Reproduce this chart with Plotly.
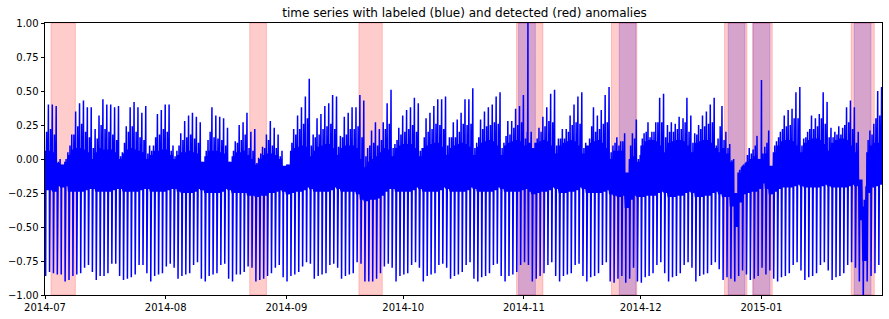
import pandas as pd
import plotly.graph_objects as go

START = "2014-07-01"
END = "2015-01-31 23:30"

# daily evening peak values (one per day, 2014-07-01 .. 2015-01-31)
peak = [
    0.40, 0.40, 0.39, 0.00, -0.04, 0.05, 0.18,
    0.35, 0.41, 0.43, 0.38, 0.38, 0.22, 0.32,
    0.44, 0.40, 0.40, 0.38, 0.39, 0.05, 0.24,
    0.38, 0.42, 0.38, 0.34, 0.39, 0.10, 0.10,
    0.33, 0.36, 0.40, 0.40, 0.10, 0.06, 0.19,
    0.28, 0.32, 0.34, 0.31, 0.27, -0.02, 0.14,
    0.38, 0.32, 0.31, 0.30, 0.23, -0.02, 0.13,
    0.25, 0.27, 0.34, 0.20, 0.22, 0.01, 0.09,
    0.18, 0.28, 0.23, 0.18, 0.06, -0.06, -0.04,
    0.22, 0.32, 0.38, 0.46, 0.59, 0.18, 0.30,
    0.33, 0.39, 0.41, 0.47, 0.46, 0.17, 0.31,
    0.34, 0.38, 0.38, 0.47, 0.43, 0.08, 0.21,
    0.27, 0.22, 0.27, 0.41, 0.51, 0.11, 0.23,
    0.32, 0.36, 0.38, 0.45, 0.41, 0.08, 0.30,
    0.34, 0.39, 0.44, 0.44, 0.46, 0.16, 0.27,
    0.29, 0.34, 0.44, 0.44, 0.52, 0.12, 0.29,
    0.35, 0.38, 0.40, 0.46, 0.49, 0.12, 0.28,
    0.28, 0.37, 0.39, 0.47, 0.20, 0.20, 0.12,
    0.23, 0.31, 0.38, 0.48, 0.51, 0.15, 0.22,
    0.22, 0.32, 0.40, 0.46, 0.49, 0.12, 0.15,
    0.38, 0.32, 0.36, 0.47, 0.53, 0.10, 0.16,
    0.13, 0.19, -0.19, 0.19, 0.29, 0.03, 0.19,
    0.27, 0.20, 0.27, 0.45, 0.48, 0.25, 0.27,
    0.26, 0.31, 0.30, 0.45, 0.32, 0.19, 0.25,
    0.32, 0.35, 0.40, 0.45, 0.15, 0.39, 0.20,
    0.11, 0.00, -0.35, -0.06, -0.03, 0.08, 0.07,
    0.17, 0.00, 0.09, 0.21, -0.15, 0.13, 0.20,
    0.32, 0.36, 0.37, 0.49, 0.53, 0.15, 0.20,
    0.32, 0.30, 0.33, 0.49, 0.42, 0.23, 0.20,
    0.24, 0.23, 0.38, 0.43, 0.38, 0.20, -0.32,
    -0.20, 0.21, 0.26, 0.50, 0.53,
]

# secondary (afternoon) spike values (one per day)
shoulder = [
    0.20, 0.22, 0.18, -0.02, -0.06, 0.00, 0.10,
    0.18, 0.24, 0.26, 0.20, 0.16, 0.08, 0.15,
    0.25, 0.22, 0.20, 0.18, 0.14, 0.02, 0.12,
    0.20, 0.24, 0.20, 0.16, 0.14, 0.04, 0.06,
    0.16, 0.18, 0.22, 0.20, 0.06, 0.02, 0.10,
    0.14, 0.16, 0.18, 0.15, 0.12, -0.04, 0.06,
    0.20, 0.16, 0.15, 0.14, 0.10, -0.04, 0.06,
    0.12, 0.14, 0.18, 0.08, 0.06, -0.03, 0.04,
    0.08, 0.14, 0.10, 0.08, 0.02, -0.07, -0.06,
    0.12, 0.18, 0.22, 0.26, 0.30, 0.10, 0.16,
    0.18, 0.22, 0.24, 0.26, 0.22, 0.09, 0.16,
    0.18, 0.22, 0.22, 0.24, 0.16, 0.02, 0.10,
    0.12, 0.10, 0.14, 0.22, 0.26, 0.08, 0.14,
    0.18, 0.20, 0.22, 0.25, 0.20, 0.06, 0.16,
    0.20, 0.22, 0.26, 0.25, 0.22, 0.10, 0.16,
    0.16, 0.20, 0.26, 0.25, 0.26, 0.08, 0.16,
    0.22, 0.24, 0.25, 0.27, 0.26, 0.08, 0.17,
    0.18, 0.23, 0.25, 0.27, 0.15, 0.12, 0.08,
    0.15, 0.20, 0.24, 0.28, 0.27, 0.10, 0.15,
    0.15, 0.20, 0.25, 0.27, 0.26, 0.08, 0.10,
    0.24, 0.20, 0.22, 0.26, 0.27, 0.05, 0.12,
    0.10, 0.13, -0.14, 0.10, 0.15, 0.00, 0.15,
    0.20, 0.16, 0.20, 0.27, 0.27, 0.16, 0.20,
    0.20, 0.22, 0.22, 0.27, 0.20, 0.12, 0.18,
    0.22, 0.24, 0.26, 0.27, 0.10, 0.24, 0.14,
    0.08, -0.01, -0.30, -0.08, -0.04, 0.03, 0.04,
    0.10, -0.01, 0.04, 0.12, -0.10, 0.10, 0.16,
    0.22, 0.24, 0.25, 0.30, 0.30, 0.10, 0.16,
    0.22, 0.22, 0.24, 0.30, 0.26, 0.16, 0.16,
    0.18, 0.18, 0.25, 0.27, 0.22, 0.12, -0.25,
    -0.30, 0.14, 0.18, 0.30, 0.32,
]

# early-morning minimum values (one per day)
trough = [
    -0.86, -0.83, -0.84, -0.85, -0.85, -0.90, -0.89,
    -0.86, -0.85, -0.84, -0.80, -0.78, -0.83, -0.89,
    -0.86, -0.86, -0.84, -0.77, -0.77, -0.86, -0.89,
    -0.88, -0.87, -0.85, -0.78, -0.78, -0.84, -0.90,
    -0.86, -0.85, -0.84, -0.79, -0.77, -0.80, -0.88,
    -0.86, -0.85, -0.84, -0.78, -0.76, -0.88, -0.90,
    -0.86, -0.85, -0.84, -0.78, -0.77, -0.88, -0.90,
    -0.85, -0.85, -0.83, -0.79, -0.80, -0.90, -0.89,
    -0.88, -0.86, -0.84, -0.80, -0.78, -0.87, -0.90,
    -0.86, -0.85, -0.83, -0.79, -0.76, -0.77, -0.88,
    -0.86, -0.85, -0.84, -0.78, -0.77, -0.80, -0.88,
    -0.86, -0.85, -0.84, -0.76, -0.77, -0.90, -0.90,
    -0.90, -0.88, -0.84, -0.79, -0.77, -0.80, -0.90,
    -0.86, -0.85, -0.84, -0.78, -0.76, -0.80, -0.90,
    -0.86, -0.85, -0.84, -0.78, -0.77, -0.80, -0.88,
    -0.86, -0.85, -0.83, -0.78, -0.76, -0.88, -0.90,
    -0.87, -0.86, -0.84, -0.78, -0.77, -0.86, -0.90,
    -0.86, -0.85, -0.83, -0.78, -0.76, -0.78, -0.90,
    -0.88, -0.86, -0.84, -0.78, -0.76, -0.86, -0.90,
    -0.86, -0.85, -0.84, -0.78, -0.77, -0.86, -0.90,
    -0.87, -0.86, -0.84, -0.78, -0.76, -0.90, -0.91,
    -0.88, -0.86, -0.91, -0.88, -0.80, -0.90, -0.91,
    -0.87, -0.86, -0.84, -0.78, -0.76, -0.84, -0.90,
    -0.87, -0.86, -0.84, -0.78, -0.76, -0.80, -0.90,
    -0.86, -0.85, -0.84, -0.78, -0.76, -0.81, -0.89,
    -0.87, -0.88, -0.90, -0.86, -0.82, -0.85, -0.89,
    -0.88, -0.86, -0.80, -0.85, -0.82, -0.88, -0.90,
    -0.87, -0.86, -0.84, -0.78, -0.76, -0.82, -0.89,
    -0.87, -0.86, -0.84, -0.78, -0.76, -0.82, -0.89,
    -0.87, -0.86, -0.84, -0.78, -0.76, -0.80, -0.90,
    -1.08, -0.90, -0.86, -0.84, -0.78,
]

# upper edge of the daytime band (one per day)
band_hi = [
    0.06, 0.06, 0.05, -0.03, -0.04, -0.02, 0.03,
    0.07, 0.08, 0.08, 0.07, 0.05, 0.00, 0.05,
    0.08, 0.07, 0.07, 0.07, 0.05, 0.00, 0.04,
    0.07, 0.08, 0.07, 0.06, 0.05, 0.00, 0.03,
    0.06, 0.06, 0.07, 0.07, 0.03, 0.00, 0.03,
    0.05, 0.05, 0.06, 0.05, 0.04, -0.02, 0.02,
    0.06, 0.06, 0.06, 0.05, 0.04, -0.02, 0.02,
    0.05, 0.05, 0.06, 0.03, 0.00, -0.04, 0.00,
    0.03, 0.04, 0.04, 0.03, 0.00, -0.05, -0.04,
    0.06, 0.08, 0.09, 0.10, 0.09, 0.02, 0.06,
    0.09, 0.10, 0.11, 0.11, 0.08, 0.03, 0.08,
    0.10, 0.10, 0.10, 0.08, 0.00, -0.06, -0.02,
    0.00, 0.02, 0.05, 0.08, 0.07, 0.02, 0.08,
    0.10, 0.11, 0.11, 0.11, 0.08, 0.02, 0.08,
    0.10, 0.11, 0.12, 0.12, 0.09, 0.03, 0.08,
    0.10, 0.11, 0.12, 0.11, 0.09, 0.03, 0.09,
    0.12, 0.13, 0.14, 0.13, 0.10, 0.03, 0.10,
    0.12, 0.13, 0.14, 0.13, 0.10, 0.05, 0.08,
    0.12, 0.13, 0.14, 0.13, 0.10, 0.04, 0.10,
    0.12, 0.13, 0.14, 0.13, 0.10, 0.04, 0.10,
    0.12, 0.13, 0.14, 0.12, 0.08, 0.00, 0.06,
    0.06, 0.06, -0.10, 0.00, 0.02, -0.02, 0.10,
    0.13, 0.14, 0.14, 0.13, 0.10, 0.05, 0.12,
    0.13, 0.14, 0.14, 0.13, 0.10, 0.05, 0.12,
    0.13, 0.14, 0.14, 0.12, 0.08, 0.05, 0.08,
    0.04, -0.02, -0.25, -0.10, -0.05, -0.02, 0.00,
    0.02, 0.00, -0.02, 0.04, -0.05, 0.05, 0.10,
    0.13, 0.14, 0.14, 0.13, 0.10, 0.05, 0.12,
    0.14, 0.15, 0.15, 0.14, 0.11, 0.06, 0.12,
    0.14, 0.15, 0.15, 0.14, 0.10, 0.05, -0.15,
    -0.35, 0.05, 0.10, 0.12, 0.12,
]

# lower edge of the daytime band (one per day)
band_lo = [
    -0.23, -0.23, -0.24, -0.20, -0.21, -0.20, -0.24,
    -0.24, -0.24, -0.24, -0.23, -0.22, -0.22, -0.24,
    -0.24, -0.24, -0.24, -0.23, -0.22, -0.22, -0.24,
    -0.24, -0.24, -0.24, -0.23, -0.22, -0.22, -0.24,
    -0.24, -0.24, -0.24, -0.23, -0.22, -0.22, -0.24,
    -0.25, -0.25, -0.25, -0.24, -0.22, -0.23, -0.25,
    -0.25, -0.25, -0.25, -0.24, -0.22, -0.23, -0.25,
    -0.25, -0.25, -0.25, -0.27, -0.27, -0.28, -0.27,
    -0.27, -0.25, -0.25, -0.24, -0.23, -0.24, -0.26,
    -0.25, -0.24, -0.24, -0.23, -0.21, -0.22, -0.24,
    -0.24, -0.24, -0.24, -0.23, -0.21, -0.22, -0.24,
    -0.24, -0.24, -0.24, -0.26, -0.30, -0.31, -0.30,
    -0.30, -0.29, -0.27, -0.24, -0.22, -0.22, -0.24,
    -0.24, -0.24, -0.24, -0.23, -0.21, -0.22, -0.24,
    -0.24, -0.24, -0.24, -0.23, -0.21, -0.22, -0.24,
    -0.24, -0.24, -0.24, -0.23, -0.21, -0.22, -0.24,
    -0.24, -0.24, -0.24, -0.23, -0.21, -0.22, -0.24,
    -0.24, -0.24, -0.24, -0.23, -0.22, -0.24, -0.26,
    -0.25, -0.24, -0.24, -0.23, -0.21, -0.22, -0.25,
    -0.25, -0.24, -0.24, -0.23, -0.21, -0.22, -0.25,
    -0.25, -0.25, -0.25, -0.24, -0.23, -0.26, -0.27,
    -0.28, -0.27, -0.36, -0.30, -0.27, -0.28, -0.28,
    -0.27, -0.27, -0.27, -0.25, -0.24, -0.25, -0.28,
    -0.28, -0.27, -0.27, -0.25, -0.24, -0.25, -0.28,
    -0.28, -0.27, -0.27, -0.25, -0.24, -0.26, -0.28,
    -0.28, -0.35, -0.50, -0.32, -0.26, -0.25, -0.24,
    -0.24, -0.22, -0.18, -0.22, -0.26, -0.24, -0.22,
    -0.21, -0.21, -0.21, -0.20, -0.19, -0.20, -0.21,
    -0.21, -0.21, -0.21, -0.20, -0.19, -0.20, -0.21,
    -0.21, -0.21, -0.21, -0.20, -0.19, -0.20, -0.45,
    -0.75, -0.25, -0.21, -0.20, -0.19,
]

# isolated extreme points (DST night, New Year's Eve)
special_times = ["2014-11-02 01:00", "2014-11-02 02:30", "2015-01-01 00:30"]
special_values = [1.05, -0.72, 0.58]

# anomaly windows
labeled_start = ["2014-10-30 15:30", "2014-11-25 12:00", "2014-12-23 11:30",
                 "2014-12-29 21:30", "2015-01-24 20:30"]
labeled_end = ["2014-11-03 22:30", "2014-11-29 19:00", "2014-12-27 18:30",
               "2015-01-03 04:30", "2015-01-29 03:30"]
detected_start = ["2014-07-02 13:00", "2014-08-22 14:00", "2014-09-19 15:00",
                  "2014-10-30 03:00", "2014-11-23 12:00", "2014-12-22 13:00",
                  "2014-12-29 18:00", "2015-01-24 02:00"]
detected_end = ["2014-07-08 19:00", "2014-08-26 21:00", "2014-09-25 15:00",
                "2014-11-05 21:00", "2014-11-30 00:00", "2014-12-28 07:00",
                "2015-01-03 19:00", "2015-01-30 00:00"]

yticks = [-1.0, -0.75, -0.5, -0.25, 0.0, 0.25, 0.5, 0.75, 1.0]
xticks = ["2014-07-01", "2014-08-01", "2014-09-01", "2014-10-01",
          "2014-11-01", "2014-12-01", "2015-01-01"]

# build the series: within each day, the stored values are placed at fixed hours
hours = [0.0, 1.5, 2.5, 4.0, 5.5, 7.0, 8.5, 10.0, 11.5, 13.0, 14.5, 16.0, 17.5, 19.0, 21.0, 22.5]
kinds = ["hi", "lo", "hi", "tr", "lo", "hi", "lo", "sh", "lo", "hi", "lo", "hi", "lo", "hi", "pk", "lo"]
t0 = pd.Timestamp(START)
pts = []
for k in range(len(peak)):
    src = {"hi": band_hi[k], "lo": band_lo[k], "tr": trough[k],
           "pk": peak[k], "sh": shoulder[k]}
    for h, kd in zip(hours, kinds):
        pts.append((t0 + pd.Timedelta(days=k, hours=h), src[kd]))
for t, v in zip(special_times, special_values):
    pts.append((pd.Timestamp(t), v))
pts.sort(key=lambda p: p[0])
pts = [p for p in pts if p[0] <= pd.Timestamp(END)]
xs = [p[0] for p in pts]
ys = [p[1] for p in pts]

fig = go.Figure()
fig.add_trace(go.Scatter(x=xs, y=ys, mode="lines",
                         line=dict(color="#0000ff", width=1.5),
                         hoverinfo="skip", showlegend=False))

for s, e in zip(labeled_start, labeled_end):
    fig.add_vrect(x0=s, x1=e, layer="below",
                  fillcolor="rgba(0,0,255,0.2)",
                  line=dict(color="rgba(0,0,255,0.2)", width=1))
for s, e in zip(detected_start, detected_end):
    fig.add_vrect(x0=s, x1=e, layer="below",
                  fillcolor="rgba(255,0,0,0.2)",
                  line=dict(color="rgba(255,0,0,0.2)", width=1))

axis_common = dict(showline=True, linecolor="black", linewidth=0.8, mirror=True,
                   ticks="outside", ticklen=3.5, tickwidth=0.8, tickcolor="black",
                   showgrid=False, zeroline=False,
                   tickfont=dict(family="DejaVu Sans", size=10, color="black"))

fig.update_xaxes(range=[START, END], tickvals=xticks, tickformat="%Y-%m", **axis_common)
fig.update_yaxes(range=[-1, 1], tickvals=yticks, tickformat=".2f", **axis_common)

fig.update_layout(
    width=889, height=319,
    margin=dict(l=45, r=7, t=23, b=24),
    paper_bgcolor="white", plot_bgcolor="white",
    title=dict(text="time series with labeled (blue) and detected (red) anomalies",
               x=0.5225, xanchor="center", y=1 - 12.5 / 319, yanchor="middle",
               font=dict(family="DejaVu Sans", size=12, color="black")),
    font=dict(family="DejaVu Sans", color="black"),
)

fig.write_html("out.html")
